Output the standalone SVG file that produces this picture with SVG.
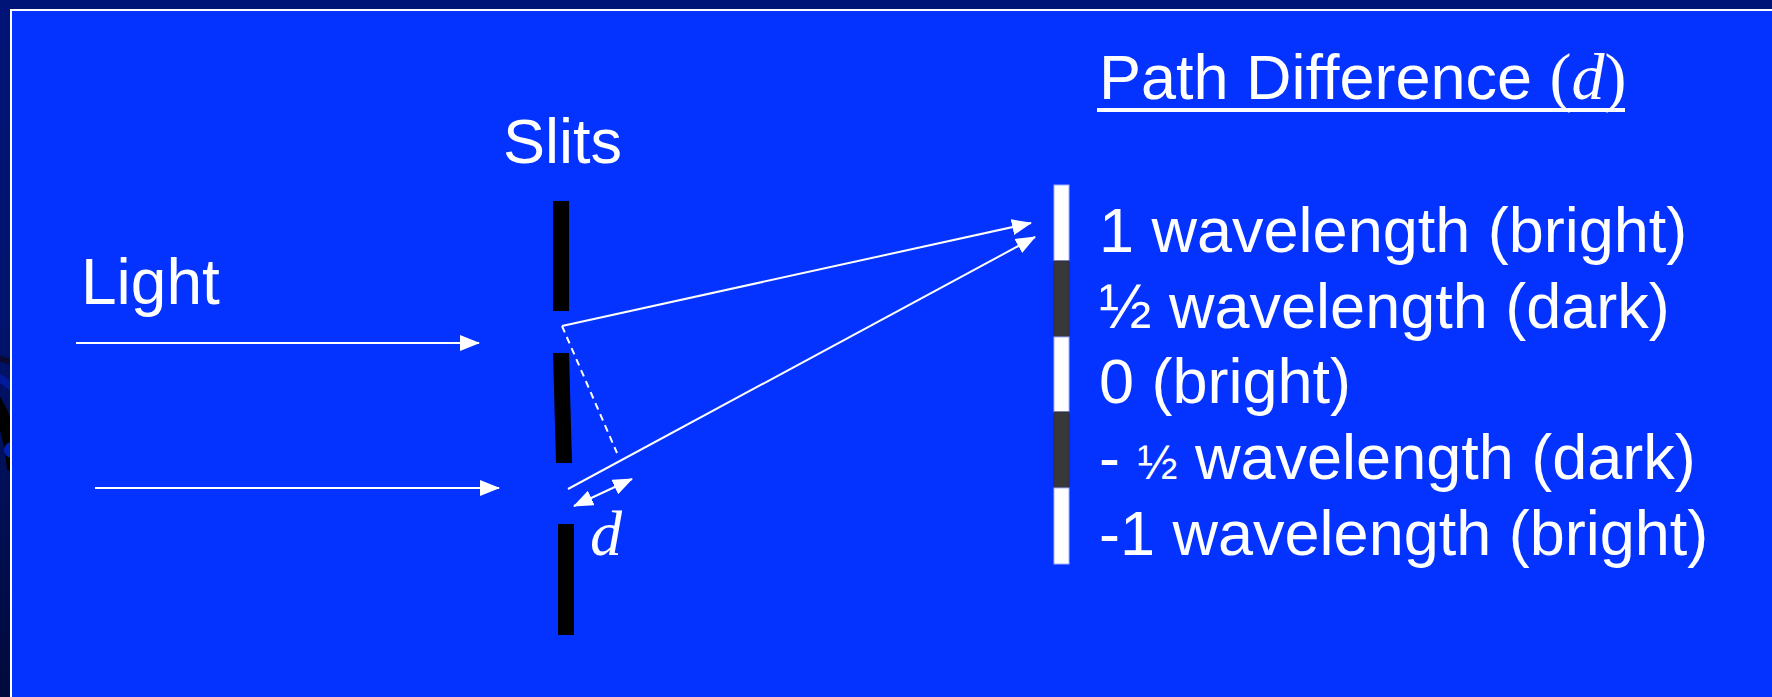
<svg xmlns="http://www.w3.org/2000/svg" width="1772" height="697" viewBox="0 0 1772 697">
<defs>
<linearGradient id="edge" x1="0" y1="0" x2="0" y2="1">
<stop offset="0" stop-color="#001478"/>
<stop offset="0.45" stop-color="#00136e"/>
<stop offset="1" stop-color="#000a3c"/>
</linearGradient>
<marker id="ah" markerUnits="userSpaceOnUse" markerWidth="20" markerHeight="16" viewBox="0 0 20 16" refX="19" refY="8" orient="auto-start-reverse">
<path d="M0,0 L20,8 L0,16 Z" fill="#ffffff"/>
</marker>
<clipPath id="strip"><rect x="0" y="0" width="10" height="697"/></clipPath>
<style>
.lbl{font-family:"Liberation Sans",Arial,sans-serif;fill:#ffffff;font-size:63px}
.ser{font-family:"Liberation Serif","Times New Roman",serif}
.ray{stroke:#ffffff;stroke-width:2;fill:none}
.slit{fill:#000000}
.bright{fill:#ffffff;stroke:#9fb0ff;stroke-width:1}
.dark{fill:#383838;stroke:#2a2a50;stroke-width:1}
</style>
</defs>
<rect x="0" y="0" width="1772" height="697" fill="url(#edge)"/>
<g clip-path="url(#strip)" fill="none">
<path d="M-20,355 Q20,360 40,380" stroke="#0a0a30" stroke-width="6"/>
<path d="M-20,370 Q15,380 40,420" stroke="#001a9a" stroke-width="8"/>
<path d="M-10,395 Q10,420 14,470" stroke="#000000" stroke-width="14"/>
<circle cx="12" cy="450" r="8" fill="#0020b0"/>
</g>
<rect x="10" y="9" width="1762" height="688" fill="#ffffff"/>
<rect x="12" y="11" width="1760" height="686" fill="#0433ff"/>

<g id="title">
<text class="lbl" x="1099" y="99">Path Difference <tspan class="ser" style="font-size:66px">(<tspan font-style="italic">d</tspan>)</tspan></text>
<rect x="1097" y="108" width="528" height="4" fill="#ffffff"/>
</g>
<g id="label-slits"><text class="lbl" x="503" y="163">Slits</text></g>
<g id="label-light"><text class="lbl" x="81" y="304" style="font-size:64px">Light</text></g>

<g id="slits">
<rect class="slit" x="553" y="201" width="16" height="110"/>
<polygon class="slit" points="553,353 569,353 572,463 556,463"/>
<rect class="slit" x="558" y="524" width="16" height="111"/>
</g>

<g id="screen">
<rect class="bright" x="1054" y="185" width="15" height="76"/>
<rect class="dark" x="1054" y="261" width="15" height="76"/>
<rect class="bright" x="1054" y="337" width="15" height="75"/>
<rect class="dark" x="1054" y="412" width="15" height="76"/>
<rect class="bright" x="1054" y="488" width="15" height="76"/>
</g>

<g id="pattern-labels">
<text class="lbl" x="1099" y="252">1 wavelength (bright)</text>
<text class="lbl" x="1099" y="328">½ wavelength (dark)</text>
<text class="lbl" x="1099" y="403">0 (bright)</text>
<text class="lbl" x="1099" y="479">- <tspan style="font-size:48px">½</tspan> wavelength (dark)</text>
<text class="lbl" x="1099" y="555">-1 wavelength (bright)</text>
</g>

<g id="label-d"><text x="590" y="555" font-family="Liberation Serif, Times New Roman, serif" font-style="italic" font-size="64" fill="#ffffff">d</text></g>

<g id="connectors">
<line class="ray" x1="76" y1="343" x2="479" y2="343" marker-end="url(#ah)"/>
<line class="ray" x1="95" y1="488" x2="499" y2="488" marker-end="url(#ah)"/>
<line class="ray" x1="562" y1="326" x2="1031" y2="223" marker-end="url(#ah)"/>
<line class="ray" x1="568" y1="489" x2="1035" y2="237" marker-end="url(#ah)"/>
<line class="ray" x1="562" y1="326" x2="617" y2="453" stroke-dasharray="7,5"/>
<line class="ray" x1="574" y1="506" x2="632" y2="479" marker-start="url(#ah)" marker-end="url(#ah)"/>
</g>
</svg>
